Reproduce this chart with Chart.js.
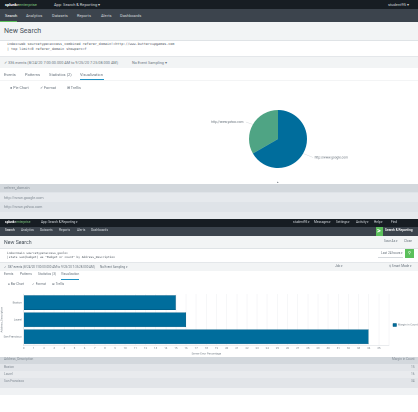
<!DOCTYPE html>
<html lang="en">
<head>
<title>New Search</title>
<meta charset="UTF-8">
<script src="https://cdn.jsdelivr.net/npm/chart.js@4/dist/chart.umd.min.js"></script>
<style>
html,body {margin:0;padding:0;background:#fff}
#page {position:relative;width:418px;height:412px;overflow:hidden;font-family:Roboto,sans-serif;filter:blur(0.45px)}
.b {position:absolute;left:0;width:418px}
.t {position:absolute;white-space:nowrap;line-height:1;transform:translateY(-50%);color:#6a747e;font-size:4px}
.w {color:#cfd4d9}
.s {font-size:3.2px}
.m {font-family:"DejaVu Sans Mono",monospace;font-size:3.4px;color:#4a535c}
canvas {position:absolute}
</style>
</head>
<body>
<div id="page">
  <!-- top screenshot -->
  <div class="b" style="top:0;height:9px;background:#171d23"></div>
  <div class="b" style="top:9px;height:13px;background:#3c444d"></div>
  <div class="b" style="top:21px;width:17px;height:1px;background:#5cc05c"></div>
  <div class="b" style="top:22px;height:18px;background:#f2f4f5"></div>
  <div class="b" style="top:40px;height:16px;background:#fff;border-top:1px solid #dfe3e6;box-sizing:border-box"></div>
  <div class="b" style="top:56px;height:12px;background:#f2f4f5;border-top:1px solid #e4e7ea;box-sizing:border-box"></div>
  <div class="b" style="top:80px;height:1px;background:#f3f4f5"></div>
  <div class="b" style="top:79px;left:80px;width:24px;height:1.2px;background:#1e93c6"></div>

  <div class="t w" style="left:5px;top:4.5px;font-weight:700;color:#fff">splunk&gt;<span style="font-weight:400;color:#7fc97f">enterprise</span></div>
  <div class="t w" style="left:54px;top:4.5px">App: Search &amp; Reporting ▾</div>
  <div class="t w" style="left:388px;top:4.5px">student95 ▾</div>
  <div class="t w" style="left:5px;top:15.5px;color:#fff">Search</div>
  <div class="t w" style="left:26px;top:15.5px">Analytics</div>
  <div class="t w" style="left:52px;top:15.5px">Datasets</div>
  <div class="t w" style="left:77px;top:15.5px">Reports</div>
  <div class="t w" style="left:101px;top:15.5px">Alerts</div>
  <div class="t w" style="left:120px;top:15.5px">Dashboards</div>
  <div class="t" style="left:4px;top:31px;font-size:7px;color:#4a535c">New Search</div>
  <div class="t m" style="left:7px;top:45px">index=web sourcetype=access_combined referer_domain!=http://www.buttercupgames.com</div>
  <div class="t m" style="left:7px;top:50px">| top limit=0 referer_domain showperc=f</div>
  <div class="t" style="left:4px;top:62.5px;font-size:3.8px">✓ 336 events (8/24/20 7:00:00.000 AM to 9/25/20 7:25:08.000 AM)</div>
  <div class="t" style="left:132px;top:62.5px;font-size:3.8px">No Event Sampling ▾</div>
  <div class="t" style="left:4px;top:74.5px">Events</div>
  <div class="t" style="left:25px;top:74.5px">Patterns</div>
  <div class="t" style="left:49px;top:74.5px">Statistics (2)</div>
  <div class="t" style="left:80px;top:74.5px">Visualization</div>
  <div class="t" style="left:10px;top:88px;font-size:3.8px">● Pie Chart</div>
  <div class="t" style="left:40px;top:88px;font-size:3.8px">✓ Format</div>
  <div class="t" style="left:67px;top:88px;font-size:3.8px">⊞ Trellis</div>
  <div class="t" style="left:277px;top:182px;font-size:3px">▴</div>

  <div class="b" style="top:184px;height:35px;background:#dfe3e8"></div>
  <div class="b" style="top:184px;height:8px;background:#d3d8dd"></div>
  <div class="b" style="top:193px;height:9px;background:#e6e9ed"></div>
  <div class="b" style="top:212px;height:7px;background:#e6e9ed"></div>
  <div class="t" style="left:4px;top:188px;font-size:3.8px;color:#838c95">referer_domain</div>
  <div class="t" style="left:4px;top:197.5px;font-size:3.8px;color:#838c95">http://www.google.com</div>
  <div class="t" style="left:4px;top:207px;font-size:3.8px;color:#838c95">http://www.yahoo.com</div>

  <!-- bottom screenshot -->
  <div class="b" style="top:219px;height:7.5px;background:#171d23"></div>
  <div class="b" style="top:226.5px;height:9.5px;background:#3c444d"></div>
  <div class="b" style="top:236px;height:12px;background:#f2f4f5"></div>
  <div class="b" style="top:248px;height:13.5px;background:#fff;border-top:1px solid #dfe3e6;box-sizing:border-box"></div>
  <div class="b" style="top:261.5px;height:9.5px;background:#f2f4f5;border-top:1px solid #e4e7ea;box-sizing:border-box"></div>
  <div class="b" style="top:278.5px;left:61px;width:18px;height:1px;background:#1e93c6"></div>
  <div class="b" style="top:226.5px;left:376px;width:7px;height:9px;background:#5cc05c"></div>
  <div class="b" style="top:249px;left:405px;width:9px;height:8.5px;background:#5cc05c"></div>
  <div class="b" style="top:256.5px;left:378px;width:25px;height:0.5px;background:#d5d9dd"></div>

  <div class="t s w" style="left:5px;top:222.5px;font-weight:700;color:#fff">splunk&gt;<span style="font-weight:400;color:#7fc97f">enterprise</span></div>
  <div class="t s w" style="left:41px;top:222.5px">App: Search &amp; Reporting ▾</div>
  <div class="t s w" style="left:293px;top:222.5px">student95 ▾</div>
  <div class="t s w" style="left:314px;top:222.5px">Messages ▾</div>
  <div class="t s w" style="left:336px;top:222.5px">Settings ▾</div>
  <div class="t s w" style="left:356px;top:222.5px">Activity ▾</div>
  <div class="t s w" style="left:374px;top:222.5px">Help ▾</div>
  <div class="t s w" style="left:391px;top:222.5px">Find</div>
  <div class="t s w" style="left:5px;top:231px;color:#fff">Search</div>
  <div class="t s w" style="left:21px;top:231px">Analytics</div>
  <div class="t s w" style="left:40px;top:231px">Datasets</div>
  <div class="t s w" style="left:59px;top:231px">Reports</div>
  <div class="t s w" style="left:77px;top:231px">Alerts</div>
  <div class="t s w" style="left:91px;top:231px">Dashboards</div>
  <div class="t s w" style="left:377px;top:231px;color:#fff;font-size:7px;font-weight:700">&gt;</div>
  <div class="t s w" style="left:385px;top:231px;color:#fff;font-weight:500">Search &amp; Reporting</div>
  <div class="t" style="left:4px;top:242.5px;font-size:5.2px;color:#4a535c">New Search</div>
  <div class="t s" style="left:384px;top:241.5px">Save As ▾</div>
  <div class="t s" style="left:404px;top:241.5px">Close</div>
  <div class="t m" style="left:7px;top:252.5px;font-size:2.9px">index=main sourcetype=access_geoloc</div>
  <div class="t m" style="left:7px;top:257px;font-size:2.9px">|stats sum(budget) as "Budget or count" by Address_Description</div>
  <div class="t s" style="left:381px;top:253.5px">Last 24 hours ▾</div>
  <div class="t s" style="left:407.5px;top:253px;color:#fff;font-size:4px">⚲</div>
  <div class="t s" style="left:4px;top:266.5px;font-size:3px">✓ 387 events (8/24/20 7:00:00.000 AM to 9/25/20 7:35:28.000 AM)</div>
  <div class="t s" style="left:100px;top:266.5px;font-size:3px">No Event Sampling ▾</div>
  <div class="t s" style="left:335px;top:266.5px">Job ▾</div>
  <div class="t s" style="left:389px;top:266.5px">⚲ Smart Mode ▾</div>
  <div class="t s" style="left:4px;top:275px">Events</div>
  <div class="t s" style="left:20px;top:275px">Patterns</div>
  <div class="t s" style="left:38px;top:275px">Statistics (3)</div>
  <div class="t s" style="left:61px;top:275px">Visualization</div>
  <div class="t s" style="left:8px;top:284.5px">● Bar Chart</div>
  <div class="t s" style="left:32px;top:284.5px">✓ Format</div>
  <div class="t s" style="left:52px;top:284.5px">⊞ Trellis</div>

  <div class="b" style="top:357px;height:31px;background:#e2e5e9"></div>
  <div class="b" style="top:357px;height:6.5px;background:#d3d8dd"></div>
  <div class="b" style="top:371px;height:7px;background:#e9ebee"></div>
  <div class="b" style="top:388px;height:7px;background:#f0f2f4"></div>
  <div class="t s" style="left:4px;top:360px;color:#838c95">Address_Description</div>
  <div class="t s" style="left:392px;top:360px;color:#838c95">Margin in Count</div>
  <div class="t s" style="left:4px;top:367.5px;color:#838c95">Boston</div>
  <div class="t s" style="left:4px;top:374.5px;color:#838c95">Laurel</div>
  <div class="t s" style="left:4px;top:381.5px;color:#838c95">San Francisco</div>
  <div class="t s" style="left:411px;top:367.5px;color:#838c95">15</div>
  <div class="t s" style="left:411px;top:374.5px;color:#838c95">16</div>
  <div class="t s" style="left:411px;top:381.5px;color:#838c95">34</div>

  <canvas id="pieChart" style="left:178px;top:99px;width:200px;height:80px"></canvas>
  <canvas id="barChart" style="left:0;top:290px;width:418px;height:66px"></canvas>
</div>

<script>
var pieLabels = ["http://www.google.com", "http://www.yahoo.com"];
var pieValues = [224, 112];
var pieColors = ["#006d9c", "#4fa484"];

var barCategories = ["Boston", "Laurel", "San Francisco"];
var barValues = [15, 16, 34];
var barSeries = "Margin in Count";
var xTicks = [];
for (var i = 0; i <= 35; i++) xTicks.push(i);

// pie labels with the little leader lines
var pieCallouts = {
  id: "pieCallouts",
  afterDraw: function(chart) {
    var ctx = chart.ctx;
    var arcs = chart.getDatasetMeta(0).data;
    ctx.save();
    ctx.font = "3.2px Roboto";
    ctx.textBaseline = "middle";
    for (var i = 0; i < arcs.length; i++) {
      var a = arcs[i];
      var mid = (a.startAngle + a.endAngle) / 2;
      var x1 = a.x + Math.cos(mid) * a.outerRadius;
      var y1 = a.y + Math.sin(mid) * a.outerRadius;
      var right = Math.cos(mid) > 0;
      var x2 = x1 + (right ? 10 : -7);
      var y2 = y1 + (right ? 4 : -2.5);
      ctx.strokeStyle = "#d5d8dc";
      ctx.lineWidth = 0.5;
      ctx.beginPath();
      ctx.moveTo(x1, y1);
      ctx.lineTo(x2, y2);
      ctx.stroke();
      ctx.fillStyle = "#6a747e";
      ctx.textAlign = right ? "left" : "right";
      ctx.fillText(pieLabels[i], x2 + (right ? 1.5 : -2.5), y2);
    }
    ctx.restore();
  }
};

new Chart("pieChart", {
  type: "pie",
  data: {
    labels: pieLabels,
    datasets: [{ data: pieValues, backgroundColor: pieColors, borderWidth: 0 }]
  },
  options: {
    responsive: false,
    animation: false,
    devicePixelRatio: 2,
    layout: { padding: 11 },
    plugins: { legend: { display: false }, tooltip: { enabled: false } }
  },
  plugins: [pieCallouts]
});

new Chart("barChart", {
  type: "bar",
  data: {
    labels: barCategories,
    datasets: [{
      label: barSeries,
      data: barValues,
      backgroundColor: "#006d9c",
      borderColor: "#00547a",
      borderWidth: 0.5,
      barPercentage: 0.87,
      categoryPercentage: 1
    }]
  },
  options: {
    indexAxis: "y",
    responsive: false,
    animation: false,
    devicePixelRatio: 2,
    layout: { padding: { top: 4, right: 0, bottom: 0, left: 0 } },
    scales: {
      x: {
        min: 0,
        max: 36,
        grid: { color: "#eceef0", lineWidth: 0.5, drawTicks: false },
        border: { color: "#d5d9dd", width: 0.5 },
        ticks: {
          stepSize: 1,
          autoSkip: false,
          maxRotation: 0,
          padding: 1.5,
          color: "#7b848d",
          font: { size: 2.8, family: "Roboto" },
          callback: function(v) { return xTicks.indexOf(v) >= 0 ? String(v) : ""; }
        },
        title: {
          display: true,
          text: "Server Error Percentage",
          color: "#7b848d",
          padding: 0.5,
          font: { size: 2.8, family: "Roboto" }
        }
      },
      y: {
        grid: { display: false, drawTicks: false },
        border: { color: "#d5d9dd", width: 0.5 },
        afterFit: function(scale) { scale.width = 23.7; },
        ticks: {
          padding: 2,
          color: "#6a747e",
          font: { size: 2.9, family: "Roboto" }
        },
        title: {
          display: true,
          text: "Address_Description",
          color: "#7b848d",
          padding: 0,
          font: { size: 2.8, family: "Roboto" }
        }
      }
    },
    plugins: {
      tooltip: { enabled: false },
      legend: {
        position: "right",
        maxWidth: 29,
        labels: {
          boxWidth: 3.5,
          boxHeight: 3,
          padding: 4,
          color: "#7b848d",
          font: { size: 2.8, family: "Roboto" }
        }
      }
    }
  }
});
</script>
</body>
</html>
